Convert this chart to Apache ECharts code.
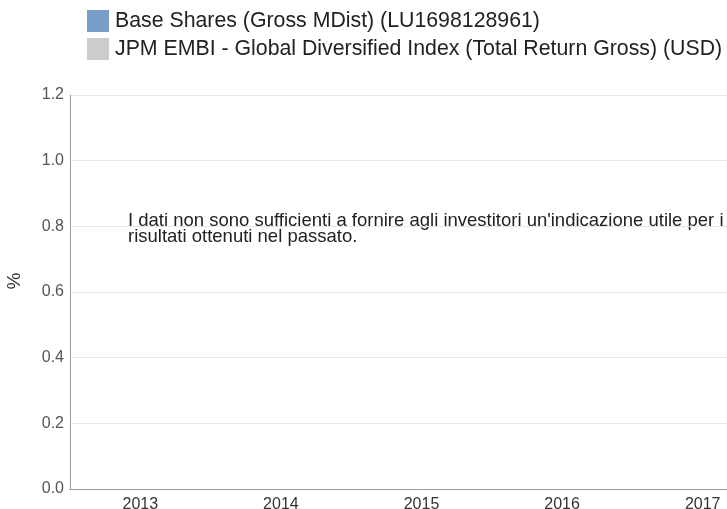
<!DOCTYPE html>
<html>
<head>
<meta charset="utf-8">
<script src="https://cdn.jsdelivr.net/npm/echarts@6/dist/echarts.min.js"></script>
<style>
  html, body { margin: 0; padding: 0; overflow: hidden; background: #fff; }
  #main { width: 800px; height: 509px; }
</style>
</head>
<body>
<div id="main"></div>
<script>
// categorie e serie (nessun dato disponibile)
const years = ['2013', '2014', '2015', '2016', '2017']
const seriesNames = [
    'Base Shares (Gross MDist) (LU1698128961)',
    'JPM EMBI - Global Diversified Index (Total Return Gross) (USD)'
]
const fundValues = []
const indexValues = []
const noDataText = "I dati non sono sufficienti a fornire agli investitori un'indicazione utile per i\nrisultati ottenuti nel passato."

const myChart = echarts.init(document.getElementById('main'))
const font = 'Liberation Sans, Arial, sans-serif'

myChart.setOption({
    animation: false,
    textStyle: { fontFamily: font },
    legend: {
        orient: 'vertical',
        left: 87,
        top: 10,
        padding: 0,
        itemWidth: 22,
        itemHeight: 22,
        itemGap: 6,
        icon: 'rect',
        textStyle: { fontSize: 21.3, color: '#222', fontFamily: font, padding: [2, 0, 0, 1] },
        data: seriesNames
    },
    grid: { left: 70, right: 27, top: 95, bottom: 20, outerBoundsMode: 'none' },
    xAxis: {
        type: 'category',
        data: years,
        axisLine: { lineStyle: { color: '#999' } },
        axisTick: { show: false },
        axisLabel: { color: '#333', fontSize: 16, margin: 8, fontFamily: font }
    },
    yAxis: {
        type: 'value',
        min: 0,
        max: 1.2,
        interval: 0.2,
        name: '%',
        nameLocation: 'middle',
        nameRotate: 90,
        nameGap: 46,
        nameTextStyle: { fontSize: 19, color: '#333', fontFamily: font, padding: [0, 0, 0, 22] },
        axisLine: { show: true, lineStyle: { color: '#999' } },
        axisTick: { show: false },
        axisLabel: {
            color: '#555',
            fontSize: 16,
            margin: 6,
            fontFamily: font,
            formatter: v => v.toFixed(1)
        },
        splitLine: { lineStyle: { color: '#e6e6e6' } }
    },
    graphic: [{
        type: 'text',
        left: 128,
        top: 211,
        style: {
            text: noDataText,
            fontSize: 18.5,
            lineHeight: 16,
            fill: '#222',
            fontFamily: font
        }
    }],
    series: [
        { name: seriesNames[0], type: 'bar', data: fundValues, itemStyle: { color: '#779dc9' } },
        { name: seriesNames[1], type: 'bar', data: indexValues, itemStyle: { color: '#cccccc' } }
    ]
})
</script>
</body>
</html>
